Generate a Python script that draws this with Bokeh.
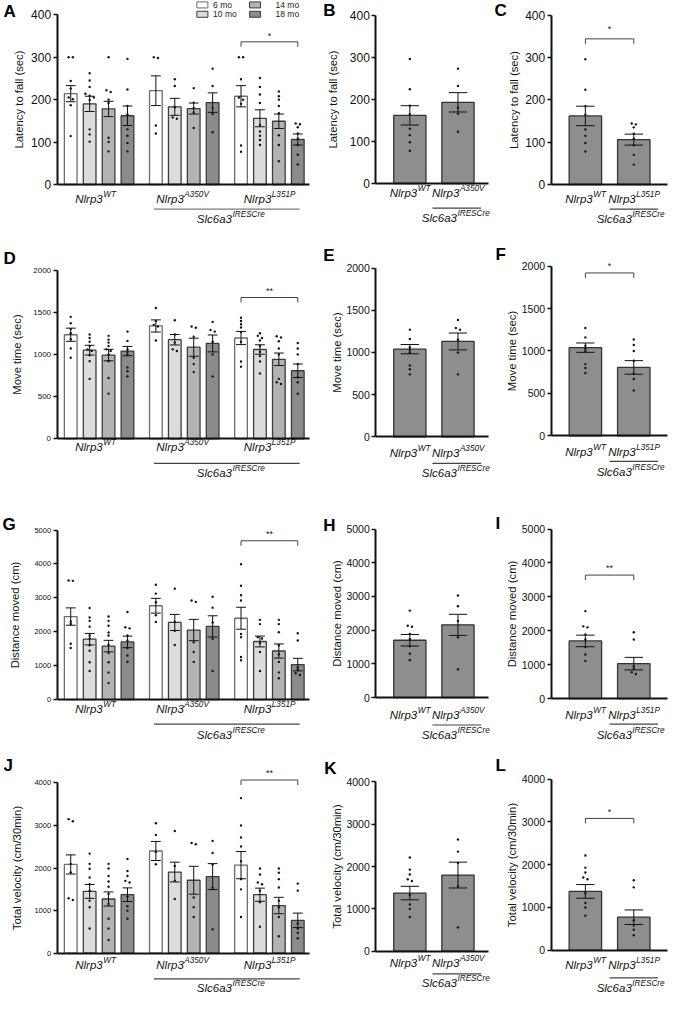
from bokeh.plotting import figure
from bokeh.models import LinearAxis, FixedTicker, Range1d
from bokeh.layouts import column, row
from bokeh.embed import file_html
from bokeh.resources import INLINE
from bokeh.core.properties import value

# ---------------- data ----------------
AGES = ["6 mo", "10 mo", "14 mo", "18 mo"]
LINES = ["WT", "A350V", "L351P"]
DRIVER = "IRESCre"

# order: WT 6,10,14,18 | A350V 6,10,14,18 | L351P 6,10,14,18
latency_mean = [214, 190, 178, 162, 221, 183, 179, 193, 208, 156, 149, 106]
latency_sem = [19, 18, 18, 23, 35, 20, 13, 23, 25, 20, 17, 13]
latency_pts = [
    [300, 300, 244, 226, 205, 201, 187, 114],
    [262, 245, 230, 214, 209, 205, 199, 130, 118, 101],
    [300, 222, 218, 200, 192, 110, 100, 78],
    [296, 224, 185, 165, 130, 115, 98, 78],
    [300, 298, 139, 120],
    [248, 232, 182, 158, 155],
    [227, 193, 180, 170, 133],
    [273, 232, 180, 166, 123],
    [300, 300, 248, 205, 200, 190, 92, 77],
    [251, 230, 212, 192, 140, 125, 115, 105, 93],
    [219, 208, 200, 185, 168, 116, 93, 55],
    [144, 142, 135, 120, 108, 93, 70, 47],
]

move_mean = [1233, 1050, 992, 1039, 1337, 1174, 1085, 1130, 1194, 1058, 942, 806]
move_sem = [78, 58, 68, 55, 72, 62, 107, 100, 78, 56, 74, 80]
move_pts = [
    [1445, 1370, 1300, 1250, 1180, 1070, 960],
    [1235, 1195, 1150, 1100, 1060, 1040, 990, 920, 710],
    [1220, 1175, 1140, 1100, 1060, 1040, 1000, 920, 720, 535],
    [1270, 1160, 1060, 1030, 1000, 845, 800, 740],
    [1550, 1395, 1350, 1330, 1165],
    [1405, 1235, 1140, 1060, 1040],
    [1330, 1315, 1210, 960, 885, 790],
    [1385, 1290, 1270, 1150, 1000, 740],
    [1435, 1395, 1357, 1318, 1265, 1150, 915, 855],
    [1250, 1220, 1195, 1165, 1100, 1030, 980, 915, 775],
    [1215, 1200, 1155, 1070, 1000, 710, 670, 650],
    [1135, 1070, 1000, 885, 730, 670, 535],
]

dist_mean = [2447, 1780, 1576, 1700, 2766, 2273, 2050, 2157, 2398, 1712, 1431, 1030]
dist_sem = [256, 170, 170, 170, 218, 237, 314, 313, 324, 160, 208, 185]
dist_pts = [
    [3510, 3500, 2300, 2230, 1645, 1520],
    [2700, 2420, 2320, 2150, 1890, 1800, 1600, 1440, 1100, 840],
    [2450, 2320, 2175, 1980, 1890, 1615, 1370, 1100, 800, 485],
    [2580, 2130, 2100, 1890, 1740, 1520, 1300, 1110],
    [3385, 3125, 2870, 2485, 2290],
    [3270, 2290, 2030, 1610],
    [2920, 2880, 1690, 1400, 1110],
    [3030, 2710, 2270, 1790, 840],
    [3990, 3355, 3075, 2920, 1935, 1840, 1255, 1160],
    [2350, 2225, 1840, 1800, 1665, 1400, 840],
    [2350, 2225, 1985, 1600, 1335, 1110, 800, 630],
    [1955, 1740, 950, 870, 775, 725],
]

vel_mean = [2085, 1452, 1274, 1375, 2402, 1907, 1714, 1800, 2070, 1375, 1120, 772]
vel_sem = [225, 163, 166, 160, 224, 232, 328, 305, 320, 154, 193, 170]
vel_pts = [
    [3150, 3100, 2100, 1900, 1290, 1250],
    [2340, 2100, 1985, 1780, 1620, 1470, 1235, 1080, 580],
    [2100, 1990, 1815, 1685, 1560, 1390, 1160, 810, 580, 310],
    [2215, 1930, 1815, 1700, 1660, 1330, 1105, 1000, 810],
    [3055, 2780, 2380, 2090],
    [2870, 2050, 1700, 1275],
    [2590, 2560, 1310, 1080, 850],
    [2640, 2355, 2085, 1540, 560],
    [3645, 3000, 2720, 2510, 2160, 1740, 1500, 850],
    [1990, 1850, 1660, 1620, 1470, 1200, 620],
    [1990, 1890, 1740, 1545, 1235, 1080, 850, 400],
    [1635, 1470, 700, 580, 480, 350],
]

YLABELS = ["Latency to fall (sec)", "Move time (sec)", "Distance moved (cm)",
           "Total velocity (cm/30min)"]
YTICKS = [[0, 100, 200, 300, 400], [0, 500, 1000, 1500, 2000],
          [0, 1000, 2000, 3000, 4000, 5000], [0, 1000, 2000, 3000, 4000]]
SIG_AGE = ["*", "**", "**", "**"]     # L351P 6 mo vs 18 mo
SIG_18 = ["*", "*", "**", "*"]        # WT vs L351P at 18 mo
LETTERS = [["A", "B", "C"], ["D", "E", "F"], ["G", "H", "I"], ["J", "K", "L"]]

# ---------------- styling / geometry ----------------
FONT = "Liberation Sans"
AGE_FILL = ["#ffffff", "#dcdcdc", "#b3b3b3", "#8b8b8b"]
AGE_LINE = ["#6e6e6e", "#3c3c3c", "#3c3c3c", "#3c3c3c"]
PAIR_FILL = "#8e8e8e"

SX = 668 / 685
SY = 996 / 1014
COLX = [0, 324, 504, 685]
ROWY = [0, 248, 514, 764, 1014]
PX = [round(v * SX) for v in COLX]
PY = [round(v * SY) for v in ROWY]

CW = {c: 0.556 for c in "0123456789abdeghnopqu"}
CW.update({"c": .5, "k": .5, "s": .5, "v": .5, "x": .5, "y": .5, "z": .5,
           "f": .278, "t": .278, "i": .222, "j": .222, "l": .222, "r": .333,
           "m": .833, "w": .722, " ": .278, "(": .333, ")": .333, "/": .278,
           "*": .389, "A": .667, "B": .667, "C": .722, "D": .722, "E": .667,
           "F": .611, "G": .778, "H": .722, "I": .278, "J": .5, "K": .667,
           "L": .556, "M": .833, "N": .722, "O": .778, "P": .667, "R": .722,
           "S": .667, "T": .611, "V": .667, "W": .944})


def tw(s, fs):
    return sum(CW.get(ch, 0.556) for ch in s) * fs


class Geo:
    def __init__(s, r, c, xc0, pxu, yzero, ytop, ymax):
        s.X0, s.X1 = COLX[c], COLX[c + 1]
        s.Y0, s.Y1 = ROWY[r], ROWY[r + 1]
        s.w = PX[c + 1] - PX[c]
        s.h = PY[r + 1] - PY[r]
        s.kx = s.w / (s.X1 - s.X0)
        s.ky = s.h / (s.Y1 - s.Y0)
        s.xc0, s.pxu, s.yzero, s.ytop, s.ymax = xc0, pxu, yzero, ytop, ymax
        s.vpp = ymax / (yzero - ytop)

    def dx(s, rx):
        return (rx - s.xc0) / s.pxu

    def dy(s, ry):
        return (s.yzero - ry) * s.vpp

    def ux(s, px):
        return px / (s.pxu * s.kx)

    def uy(s, px):
        return px * s.vpp / s.ky


def txt(p, x, y, t, fs, align="center", style="normal", color="#111"):
    p.text(x=[x], y=[y], text=[t], text_font=value(FONT), text_font_size=f"{fs}px",
           text_font_style=style, text_align=align, text_baseline="middle",
           text_color=color)


def sup_label(p, g, xc, ry, main, sup, fs=11.5, fss=8.2):
    w1, w2 = tw(main, fs), tw(sup, fss)
    xs = xc + g.ux((w1 - w2) / 2)
    y = g.dy(ry)
    txt(p, xs, y, main, fs, "right", "italic")
    txt(p, xs + g.ux(0.5), y + g.uy(4.5), sup, fss, "left", "italic")


def base(g, ticks, tick_fs, ylabel, label_cx, axis_x, xend, letter, lpos):
    p = figure(width=g.w, height=g.h,
               x_range=Range1d(g.dx(g.X0), g.dx(g.X1)),
               y_range=Range1d(g.dy(g.Y1), g.dy(g.Y0)),
               output_backend="svg", toolbar_location=None,
               x_axis_location=None, y_axis_location=None,
               min_border=0, outline_line_color=None)
    p.grid.visible = False
    lab_fs = 11.3
    tick_w = tw(str(ticks[-1]), tick_fs)
    dist = (axis_x - label_cx) * g.kx
    standoff = max(0, round(dist - 4 - 2 - tick_w - 0.56 * lab_fs))
    ya = LinearAxis(fixed_location=g.dx(axis_x), bounds=(0, ticks[-1]),
                    ticker=FixedTicker(ticks=ticks, minor_ticks=[]),
                    axis_label=ylabel, axis_label_standoff=standoff,
                    axis_label_text_font=FONT, axis_label_text_font_size=f"{lab_fs}px",
                    axis_label_text_font_style="normal", axis_label_text_color="#111",
                    major_label_text_font=FONT, major_label_text_font_size=f"{tick_fs}px",
                    major_label_text_color="#111", major_label_standoff=2,
                    axis_line_width=2, axis_line_color="#111",
                    major_tick_in=0, major_tick_out=4, major_tick_line_width=1.5,
                    major_tick_line_color="#111", minor_tick_line_color=None)
    p.add_layout(ya, "left")
    xa = LinearAxis(fixed_location=0, bounds=(g.dx(axis_x), g.dx(xend)),
                    ticker=FixedTicker(ticks=[], minor_ticks=[]),
                    axis_line_width=2, axis_line_color="#111",
                    major_tick_line_color=None, minor_tick_line_color=None,
                    major_label_text_font_size="0px")
    p.add_layout(xa, "below")
    txt(p, g.dx(lpos[0]), g.dy(lpos[1]), letter, 17, "left", "bold", "#000")
    return p


def spread(g, xc, vals):
    order = sorted(vals, reverse=True)
    clusters = []
    for v in order:
        if clusters and len(clusters[-1]) < 3 and (clusters[-1][-1] - v) / g.vpp * g.ky < 2.2:
            clusters[-1].append(v)
        else:
            clusters.append([v])
    xs, ys = [], []
    for cl in clusters:
        k = len(cl)
        for i, v in enumerate(cl):
            xs.append(xc + g.ux((i - (k - 1) / 2) * 4.2))
            ys.append(v)
    return xs, ys


def bars(p, g, xs, means, sems, pts, fills, lines, width, capw):
    p.vbar(x=xs, top=means, bottom=0, width=width, fill_color=fills,
           line_color=lines, line_width=1.3)
    lo = [m - s for m, s in zip(means, sems)]
    hi = [m + s for m, s in zip(means, sems)]
    p.segment(x0=xs, y0=lo, x1=xs, y1=hi, line_color="#111", line_width=1)
    for yy in (lo, hi):
        p.segment(x0=[x - capw / 2 for x in xs], y0=yy, x1=[x + capw / 2 for x in xs],
                  y1=yy, line_color="#111", line_width=1)
    px, py = [], []
    for x, vals in zip(xs, pts):
        a, b = spread(g, x, vals)
        px += a
        py += b
    p.scatter(x=px, y=py, size=2.4, color="#151515", line_width=0)


def bracket(p, g, x1, x2, ry, rstar, sig):
    yb = g.dy(ry)
    t = g.uy(5)
    p.line(x=[x1, x1, x2, x2], y=[yb - t, yb, yb, yb - t], line_color="#444", line_width=1)
    txt(p, (x1 + x2) / 2, g.dy(rstar), sig, 9, "center", "normal", "#222")


# ---------- per-row reference geometry (ref px) ----------
LEFT = dict(yzero=[187, 446, 712, 970], ytop=[14.5, 274, 539, 797],
            tick_fs=[12, 8, 7.5, 7.5], label_cx=[22, 19, 17, 19],
            lab_y=[(202, 212, 222), (454, 471, 481), (722, 737, 748), (982, 996, 1005)],
            letter=[(3, 11), (3, 262), (2, 533), (3, 779)],
            br=[(42, 36), (302, 295), (550, 543), (794, 787)])
MID = dict(yzero=[186, 444, 710, 968], ytop=[15, 272, 538, 796],
           tick_fs=[12, 10.5, 10.5, 10.5], label_cx=[345, 348, 348, 348],
           lab_y=[(196, 211, 221), (460, 471, 481), (728, 738, 748), (980, 991, 1000)],
           letter=[(331, 10), (331, 259), (331, 534), (332, 782)])
RIGHT = dict(yzero=[187, 443, 711, 967], ytop=[15, 270, 538, 793],
             tick_fs=[12, 10.5, 10.5, 10.5], label_cx=[530, 527, 527, 527],
             lab_y=[(202, 212, 222), (459, 469, 480), (728, 737, 748), (982, 995, 1005)],
             letter=[(507, 10), (508, 258), (508, 532), (508, 779)],
             br=[(39, 29), (277, 270), (585, 578), (833, 826)])

DATA = [(latency_mean, latency_sem, latency_pts), (move_mean, move_sem, move_pts),
        (dist_mean, dist_sem, dist_pts), (vel_mean, vel_sem, vel_pts)]

rows = []
for r in range(4):
    mean, sem, pts = DATA[r]
    ticks = YTICKS[r]
    ymax = ticks[-1]

    # ----- left: all ages -----
    g = Geo(r, 0, 72, 19.4, LEFT["yzero"][r], LEFT["ytop"][r], ymax)
    p = base(g, ticks, LEFT["tick_fs"][r], YLABELS[r], LEFT["label_cx"][r], 58, 317,
             LETTERS[r][0], LEFT["letter"][r])
    xs = [grp * 4.5 + a for grp in range(3) for a in range(4)]
    bars(p, g, xs, mean, sem, pts, AGE_FILL * 3, AGE_LINE * 3, 0.67, 0.52)
    ly, uy_, sy_ = LEFT["lab_y"][r]
    for xc, gt in zip([1.3, 5.9, 10.5], LINES):
        sup_label(p, g, xc, ly, "Nlrp3", gt)
    p.line(x=[4.4, 12.1], y=[g.dy(uy_)] * 2, line_color="#7a7a7a" if r == 0 else "#444",
           line_width=1.2)
    sup_label(p, g, 8.45, sy_, "Slc6a3", DRIVER)
    bracket(p, g, 9, 12, LEFT["br"][r][0], LEFT["br"][r][1], SIG_AGE[r])
    if r == 0:
        bx = [g.dx(207), g.dx(207), g.dx(261), g.dx(261)]
        by = [g.dy(4.5), g.dy(14), g.dy(4.5), g.dy(14)]
        p.rect(x=bx, y=by, width=11, height=6, width_units="screen", height_units="screen",
               fill_color=AGE_FILL, line_color=AGE_LINE, line_width=1)
        for xr, yr, lab in zip([218, 218, 282, 282], [4.5, 14, 4.5, 14], AGES):
            txt(p, g.dx(xr), g.dy(yr), lab, 8.5, "left", "normal", "#222")
    row_figs = [p]

    # ----- middle: WT vs A350V at 18 mo -----
    g = Geo(r, 1, 420, 49.5, MID["yzero"][r], MID["ytop"][r], ymax)
    p = base(g, ticks, MID["tick_fs"][r], YLABELS[r], MID["label_cx"][r], 385, 501,
             LETTERS[r][1], MID["letter"][r])
    idx = [3, 7]
    bars(p, g, [0, 1], [mean[i] for i in idx], [sem[i] for i in idx], [pts[i] for i in idx],
         [PAIR_FILL] * 2, ["#333"] * 2, 0.67, 0.38)
    ly, uy_, sy_ = MID["lab_y"][r]
    sup_label(p, g, 0, ly, "Nlrp3", LINES[0])
    sup_label(p, g, 1, ly, "Nlrp3", LINES[1])
    p.line(x=[0.47, 1.48], y=[g.dy(uy_)] * 2, line_color="#444", line_width=1.2)
    sup_label(p, g, 0.95, sy_, "Slc6a3", DRIVER)
    row_figs.append(p)

    # ----- right: WT vs L351P at 18 mo -----
    g = Geo(r, 2, 600, 49.5, RIGHT["yzero"][r], RIGHT["ytop"][r], ymax)
    p = base(g, ticks, RIGHT["tick_fs"][r], YLABELS[r], RIGHT["label_cx"][r], 565, 684,
             LETTERS[r][2], RIGHT["letter"][r])
    idx = [3, 11]
    bars(p, g, [0, 1], [mean[i] for i in idx], [sem[i] for i in idx], [pts[i] for i in idx],
         [PAIR_FILL] * 2, ["#333"] * 2, 0.67, 0.38)
    ly, uy_, sy_ = RIGHT["lab_y"][r]
    sup_label(p, g, 0, ly, "Nlrp3", LINES[0])
    sup_label(p, g, 1, ly, "Nlrp3", LINES[2])
    p.line(x=[0.5, 1.5], y=[g.dy(uy_)] * 2, line_color="#444", line_width=1.2)
    sup_label(p, g, 0.93, sy_, "Slc6a3", DRIVER)
    bracket(p, g, 0, 1, RIGHT["br"][r][0], RIGHT["br"][r][1], SIG_18[r])
    row_figs.append(p)

    rows.append(row(*row_figs, spacing=0))

layout = column(*rows, spacing=0)
open("out.html", "w").write(file_html(layout, INLINE))
